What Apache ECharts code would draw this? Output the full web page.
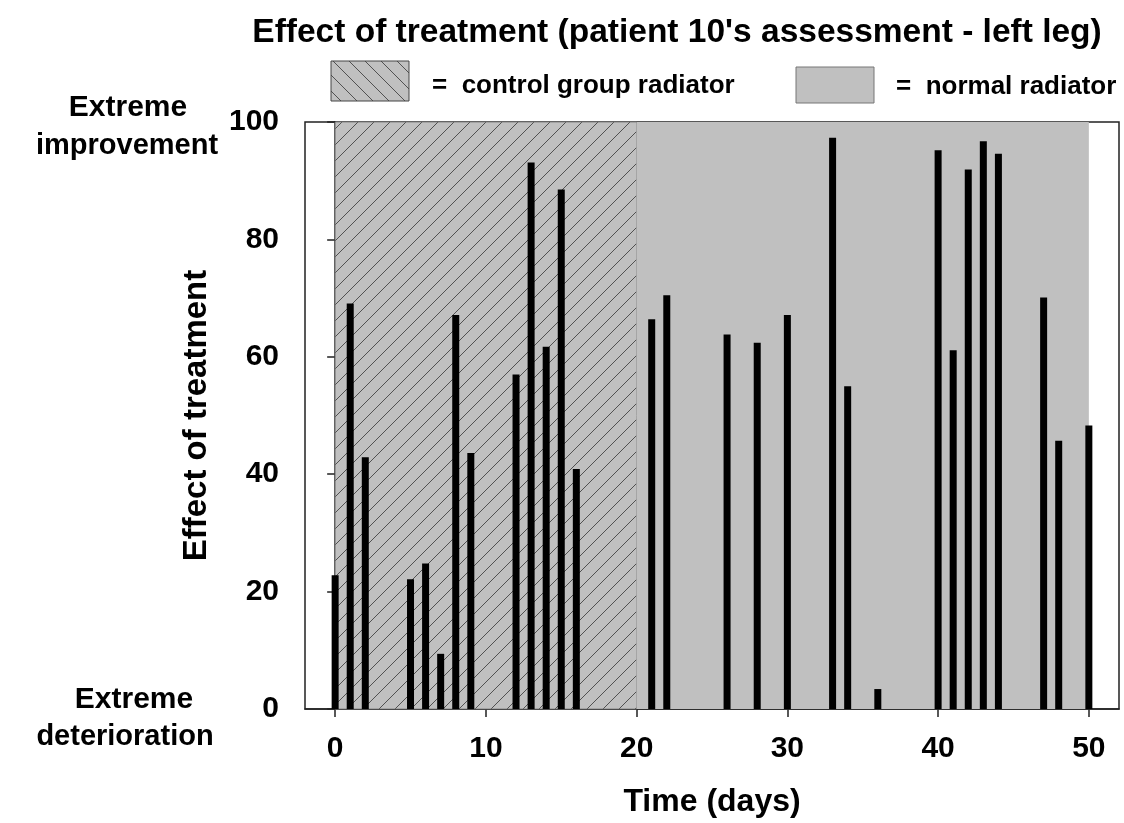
<!DOCTYPE html>
<html>
<head>
<meta charset="utf-8">
<script src="https://cdn.jsdelivr.net/npm/echarts@6/dist/echarts.min.js"></script>
<style>html,body{margin:0;padding:0;background:#fff}#c{width:1124px;height:823px}</style>
</head>
<body>
<div id="c"></div>
<script>
// ---- data ----
const days = [0,1,2,5,6,7,8,9,12,13,14,15,16,21,22,26,28,30,33,34,36,40,41,42,43,44,47,48,50];
const effect = [22.8,69.1,42.9,22.1,24.8,9.4,67.1,43.6,57.0,93.1,61.7,88.5,40.9,66.4,70.5,63.8,62.4,67.1,97.3,55.0,3.4,95.2,61.1,91.9,96.7,94.6,70.1,45.7,48.3];
const regionStart = [0,20];
const regionEnd = [20,50];
const regionKind = ['control','normal'];
const xTicks = [0,10,20,30,40,50];
const yTicks = [0,20,40,60,80,100];
const titleText = "Effect of treatment (patient 10's assessment - left leg)";
const legendLabels = ['=  control group radiator','=  normal radiator'];

const FONT = '"Liberation Sans", Arial, sans-serif';
function hatch(dir){
  const s = 16, c = document.createElement('canvas');
  c.width = s; c.height = s;
  const g = c.getContext('2d');
  g.fillStyle = '#c0c0c0'; g.fillRect(0,0,s,s);
  g.strokeStyle = '#444'; g.lineWidth = 0.9;
  g.beginPath();
  if (dir === '/') {
    g.moveTo(-2,s+2); g.lineTo(s+2,-2);
    g.moveTo(-2,2); g.lineTo(2,-2);
    g.moveTo(s-2,s+2); g.lineTo(s+2,s-2);
  } else {
    g.moveTo(-2,-2); g.lineTo(s+2,s+2);
    g.moveTo(s-2,-2); g.lineTo(s+2,2);
    g.moveTo(-2,s-2); g.lineTo(2,s+2);
  }
  g.stroke();
  return c;
}
const plotHatch = {image: hatch('/'), repeat: 'repeat'};
const legHatch = {image: hatch('\\'), repeat: 'repeat'};

const chart = echarts.init(document.getElementById('c'), null, {renderer:'canvas'});
const regionData = regionStart.map((s,i)=>[s, regionEnd[i], i]);
const option = {
  animation: false,
  backgroundColor: '#fff',
  title: {
    text: titleText, left: 672, top: 11, textAlign: 'center',
    textStyle: {fontFamily: FONT, fontWeight: 'bold', fontSize: 33.5, color: '#000'}
  },
  grid: {left: 305, right: 5, top: 122, bottom: 114, show: true, borderColor: '#222', borderWidth: 1.5, backgroundColor: 'transparent'},
  xAxis: {
    type: 'value', min: -2, max: 52,
    name: 'Time (days)', nameLocation: 'middle', nameGap: 77,
    nameTextStyle: {fontFamily: FONT, fontWeight: 'bold', fontSize: 32, color: '#000'},
    axisLine: {show: true, onZero: false, lineStyle: {color: '#222', width: 1.5}},
    axisTick: {show: true, length: 8, customValues: xTicks, lineStyle: {color: '#222', width: 1.5}},
    axisLabel: {customValues: xTicks, margin: 25, fontFamily: FONT, fontWeight: 'bold', fontSize: 30, color: '#000'},
    splitLine: {show: false}
  },
  yAxis: {
    type: 'value', min: 0, max: 100, interval: 20,
    name: 'Effect of treatment', nameLocation: 'middle', nameGap: 92, nameRotate: 90,
    nameTextStyle: {fontFamily: FONT, fontWeight: 'bold', fontSize: 33, color: '#000'},
    axisLine: {show: true, lineStyle: {color: '#222', width: 1.5}},
    axisTick: {show: true, length: 8, lineStyle: {color: '#222', width: 1.5}},
    axisLabel: {margin: 26, fontFamily: FONT, fontWeight: 'bold', fontSize: 30, color: '#000'},
    splitLine: {show: false}
  },
  graphic: [
    {type: 'rect', shape: {x: 331, y: 61, width: 78, height: 40}, style: {fill: legHatch, stroke: '#444', lineWidth: 1}},
    {type: 'text', x: 432, y: 86, style: {text: legendLabels[0], font: 'bold 26px ' + FONT, fill: '#000', textVerticalAlign: 'middle'}},
    {type: 'rect', shape: {x: 796, y: 67, width: 78, height: 36}, style: {fill: '#c0c0c0', stroke: '#777', lineWidth: 1}},
    {type: 'text', x: 896, y: 87, style: {text: legendLabels[1], font: 'bold 26px ' + FONT, fill: '#000', textVerticalAlign: 'middle'}},
    {type: 'text', x: 128, y: 108, style: {text: 'Extreme', font: 'bold 30px ' + FONT, fill: '#000', textAlign: 'center', textVerticalAlign: 'middle'}},
    {type: 'text', x: 127, y: 146, style: {text: 'improvement', font: 'bold 29px ' + FONT, fill: '#000', textAlign: 'center', textVerticalAlign: 'middle'}},
    {type: 'text', x: 134, y: 700, style: {text: 'Extreme', font: 'bold 30px ' + FONT, fill: '#000', textAlign: 'center', textVerticalAlign: 'middle'}},
    {type: 'text', x: 125, y: 737, style: {text: 'deterioration', font: 'bold 29px ' + FONT, fill: '#000', textAlign: 'center', textVerticalAlign: 'middle'}}
  ],
  series: [
    {
      type: 'custom', z: 1, silent: true,
      data: regionData,
      encode: {x: [0,1]},
      renderItem: function(params, api){
        const p0 = api.coord([api.value(0), 100]);
        const p1 = api.coord([api.value(1), 0]);
        const kind = regionKind[api.value(2)];
        return {
          type: 'rect',
          shape: {x: p0[0], y: p0[1], width: p1[0]-p0[0], height: p1[1]-p0[1]},
          style: {fill: kind === 'control' ? plotHatch : '#c0c0c0', stroke: kind === 'control' ? '#777' : null, lineWidth: 0.8}
        };
      }
    },
    {
      type: 'bar', z: 5, barWidth: 7,
      data: days.map((d,i)=>[d, effect[i]]),
      itemStyle: {color: '#000'}
    }
  ]
};
chart.setOption(option);
</script>
</body>
</html>
